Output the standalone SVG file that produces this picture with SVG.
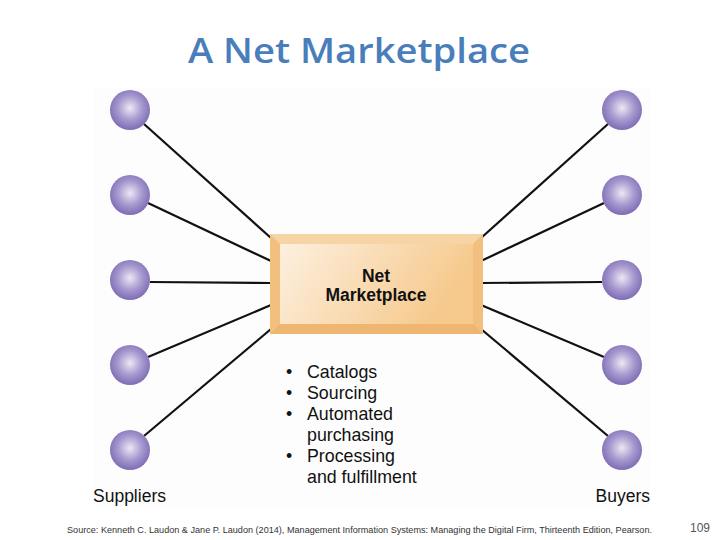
<svg xmlns="http://www.w3.org/2000/svg" width="720" height="540" viewBox="0 0 720 540">
<style>
.lbl{font-family:"Liberation Sans",Arial,sans-serif;fill:#111}
.conn line{stroke:#111;stroke-width:2.2}
</style>
<defs>
<radialGradient id="ball" cx="0.5" cy="0.45" r="0.55">
<stop offset="0" stop-color="#ece8f4"/>
<stop offset="0.55" stop-color="#a799cf"/>
<stop offset="1" stop-color="#7d6cb4"/>
</radialGradient>
<linearGradient id="face" x1="0" y1="0" x2="1" y2="0.3">
<stop offset="0" stop-color="#fdf0e0"/>
<stop offset="1" stop-color="#f6c98c"/>
</linearGradient>
<circle id="node" r="20" fill="url(#ball)"/>
</defs>
<rect width="720" height="540" fill="#ffffff"/>
<rect x="93" y="88" width="557" height="418" fill="#fdfdfd"/>
<text x="359" y="63" text-anchor="middle" font-family="Open Sans, Liberation Sans, sans-serif" font-size="35" font-weight="600" fill="#4a7ebb" textLength="342" lengthAdjust="spacingAndGlyphs">A Net Marketplace</text>
<g id="connectors" class="conn">
<line x1="144" y1="124" x2="271" y2="238"/>
<line x1="148" y1="203" x2="271" y2="261"/>
<line x1="150" y1="282" x2="271" y2="283"/>
<line x1="148" y1="357" x2="271" y2="305"/>
<line x1="144" y1="436" x2="271" y2="329"/>
<line x1="608" y1="124" x2="481" y2="238"/>
<line x1="604" y1="203" x2="481" y2="261"/>
<line x1="602" y1="282" x2="481" y2="283"/>
<line x1="604" y1="357" x2="481" y2="305"/>
<line x1="608" y1="436" x2="481" y2="329"/>
</g>
<g id="suppliers-nodes">
<use href="#node" x="130" y="110"/>
<use href="#node" x="130" y="195"/>
<use href="#node" x="130" y="280"/>
<use href="#node" x="130" y="365"/>
<use href="#node" x="130" y="450"/>
</g>
<g id="buyers-nodes">
<use href="#node" x="622" y="110"/>
<use href="#node" x="622" y="195"/>
<use href="#node" x="622" y="280"/>
<use href="#node" x="622" y="365"/>
<use href="#node" x="622" y="450"/>
</g>
<g id="net-marketplace">
<rect x="270" y="234" width="213" height="100" fill="#f3bf7e"/>
<polygon points="270,234 483,234 473,244 280,244" fill="#f7d4a6"/>
<polygon points="270,334 483,334 473,324 280,324" fill="#eeb670"/>
<rect x="280" y="244" width="193" height="80" fill="url(#face)"/>
<text class="lbl" x="376" y="282" text-anchor="middle" font-size="17.5" font-weight="bold">Net</text>
<text class="lbl" x="376" y="301" text-anchor="middle" font-size="17.5" font-weight="bold">Marketplace</text>
</g>
<g id="features" class="lbl" font-size="17.8">
<text x="286" y="378">•</text><text x="307" y="378">Catalogs</text>
<text x="286" y="399">•</text><text x="307" y="399">Sourcing</text>
<text x="286" y="420">•</text><text x="307" y="420">Automated</text>
<text x="307" y="441">purchasing</text>
<text x="286" y="462">•</text><text x="307" y="462">Processing</text>
<text x="307" y="483">and fulfillment</text>
</g>
<g id="suppliers"><text class="lbl" x="93" y="502" font-size="17.5">Suppliers</text></g>
<g id="buyers"><text class="lbl" x="650" y="502" font-size="17.5" text-anchor="end">Buyers</text></g>
<text x="67" y="533" font-family="Liberation Sans, sans-serif" font-size="9" fill="#333" textLength="585" lengthAdjust="spacingAndGlyphs">Source: Kenneth C. Laudon &amp; Jane P. Laudon (2014), Management Information Systems: Managing the Digital Firm, Thirteenth Edition, Pearson.</text>
<text x="710" y="532" text-anchor="end" font-family="Liberation Sans, sans-serif" font-size="12" fill="#555">109</text>
</svg>
